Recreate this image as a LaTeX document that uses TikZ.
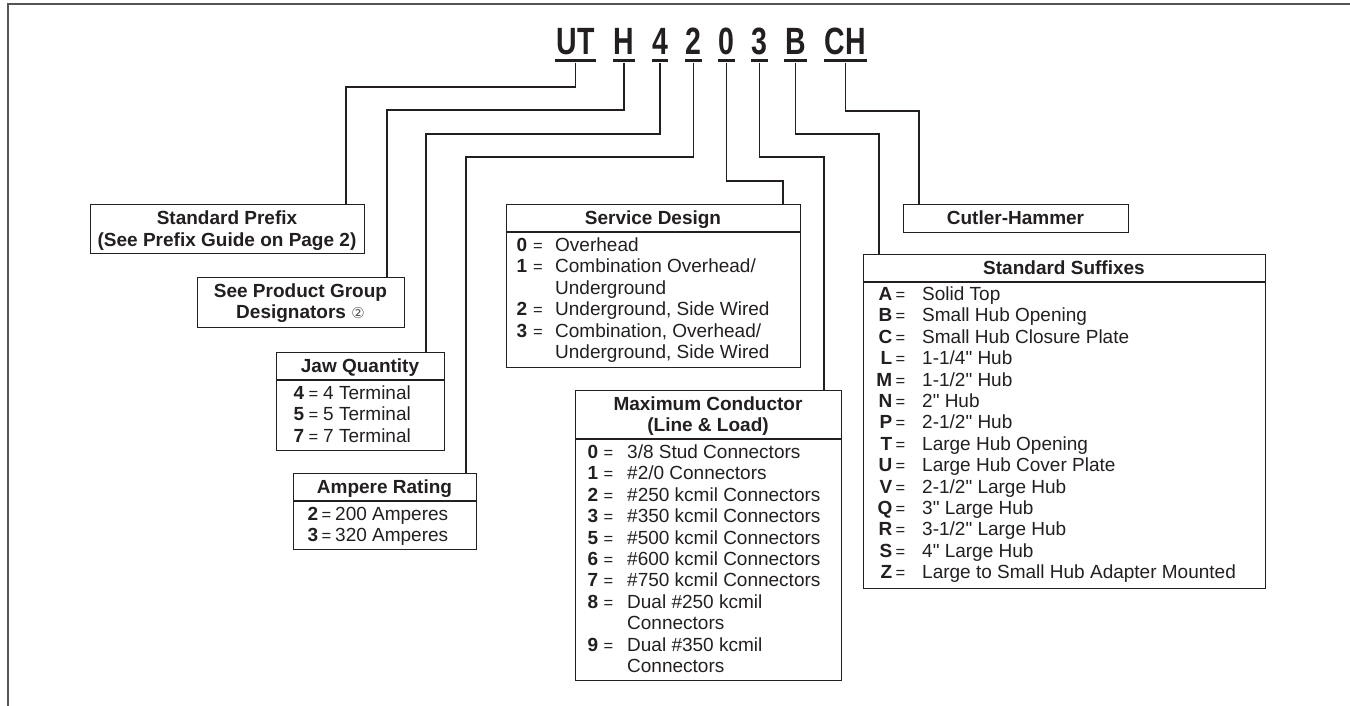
\documentclass[tikz,border=0pt]{standalone}
\usepackage{fontspec}
\usepackage{graphicx}
\setmainfont{Liberation Sans}[Ligatures=TeXOff]
\newfontfamily\dejavu{DejaVu Sans}
\definecolor{ink}{HTML}{231F20}
\definecolor{framecol}{HTML}{555555}
\newcommand\bodyfont{\fontsize{19}{21.4}\selectfont}
\newcommand\codefont{\fontsize{38}{40}\selectfont\bfseries}
\newcommand\eqfont{\fontsize{16.5}{20}\selectfont}
% key right x, "=" centre x, text left x, baseline y, key, text
\newcommand\kvline[6]{%
  \node[txt, anchor=base east] at (#1-1.5,#4) {\bfseries #5};
  \node[txt, anchor=base, font=\eqfont] at (#2,#4) {=};
  \node[txt, anchor=base west] at (#3,#4) {#6};}
\newcommand\contline[3]{\node[txt, anchor=base west] at (#1,#2) {#3};}
\newcommand\titleline[3]{\node[txt, anchor=base] at (#1,#2) {\bfseries #3};}
\begin{document}
\begin{tikzpicture}[x=1pt,y=-1pt,
  txt/.style={inner sep=0pt, text=ink, font=\bodyfont},
  codetxt/.style={inner sep=0pt, text=ink, font=\codefont},
  uline/.style={fill=ink, inner sep=0pt, minimum height=3},
  boxnode/.style={draw=ink, line width=1.3pt, inner sep=0pt, anchor=north west},
  conn/.style={draw=ink, line width=1.2pt},
  divline/.style={draw=ink, line width=1.3pt}]
\useasboundingbox (0,0) rectangle (1350,706);
% frame
\draw[framecol, line width=2pt] (7.5,706) -- (7.5,4) -- (1350,4);

% code letters and underlines
\foreach \n/\t/\x/\a/\b in {UT/UT/575.5/555/596, H/H/624/613/635, 4/4/660/652/668,
    2/2/693.5/685/702, 0/0/726.5/718/735, 3/3/759.5/751/768, B/B/795.5/784/807, CH/CH/845.5/824/867} {
  \node[codetxt, anchor=base] (c\n) at (\x,55) {\scalebox{0.75}[1]{\t}};
  \node[uline, minimum width=\b-\a] (u\n) at ({(\a+\b)/2},61) {};
}

% boxes
\node[boxnode, minimum width=274, minimum height=49] (prefix) at (90,204) {};
\node[boxnode, minimum width=207, minimum height=50] (product) at (197,277) {};
\node[boxnode, minimum width=168, minimum height=98] (jaw) at (276,352) {};
\node[boxnode, minimum width=183, minimum height=76] (amp) at (293,473) {};
\node[boxnode, minimum width=294, minimum height=163] (service) at (506,204) {};
\node[boxnode, minimum width=266, minimum height=290] (maxc) at (575,390) {};
\node[boxnode, minimum width=225, minimum height=28] (cutler) at (903,204) {};
\node[boxnode, minimum width=402, minimum height=334] (suffix) at (863,254) {};

% dividers
\draw[divline] (jaw.west |- 0,380) -- (jaw.east |- 0,380);
\draw[divline] (amp.west |- 0,501) -- (amp.east |- 0,501);
\draw[divline] (service.west |- 0,232) -- (service.east |- 0,232);
\draw[divline] (maxc.west |- 0,439) -- (maxc.east |- 0,439);
\draw[divline] (suffix.west |- 0,282) -- (suffix.east |- 0,282);

% connectors
\coordinate (kUT) at (346,87);
\coordinate (kH) at (387,110);
\coordinate (k4) at (426,134);
\coordinate (k2) at (466,157);
\coordinate (k0) at (783,181);
\coordinate (k3) at (824,157);
\coordinate (kB) at (879,134);
\coordinate (kCH) at (919,111);
\draw[conn] (uUT.south) |- (kUT) -- (kUT |- prefix.north);
\draw[conn] (uH.south) |- (kH) -- (kH |- product.north);
\draw[conn] (u4.south) |- (k4) -- (k4 |- jaw.north);
\draw[conn] (u2.south) |- (k2) -- (k2 |- amp.north);
\draw[conn] (u0.south) |- (k0) -- (k0 |- service.north);
\draw[conn] (u3.south) |- (k3) -- (k3 |- maxc.north);
\draw[conn] (uB.south) |- (kB) -- (kB |- suffix.north);
\draw[conn] (uCH.south) |- (kCH) -- (kCH |- cutler.north);

% titles
\titleline{227}{224.5}{Standard Prefix}
\titleline{227}{246.5}{(See Prefix Guide on Page 2)}
\titleline{300.5}{297.5}{See Product Group}
\node[txt, anchor=base] at (300.5,318.5) {\bfseries Designators~{\dejavu\mdseries\fontsize{15}{15}\selectfont\textcolor{ink!75}{②}}};
\titleline{360}{372.5}{Jaw Quantity}
\titleline{384.5}{493.5}{Ampere Rating}
\titleline{653}{224.5}{Service Design}
\titleline{708}{410.5}{Maximum Conductor}
\titleline{708}{431.5}{(Line \& Load)}
\titleline{1015.5}{224.5}{Cutler-Hammer}
\titleline{1064}{274.5}{Standard Suffixes}

% Jaw quantity
\kvline{306}{313.5}{323}{399.5}{4}{4 Terminal}
\kvline{306}{313.5}{323}{420.9}{5}{5 Terminal}
\kvline{306}{313.5}{323}{442.3}{7}{7 Terminal}

% Ampere rating
\kvline{320}{326.5}{335}{520.5}{2}{200 Amperes}
\kvline{320}{326.5}{335}{541.9}{3}{320 Amperes}

% Service design
\kvline{529}{538}{555}{251.5}{0}{Overhead}
\kvline{529}{538}{555}{272.9}{1}{Combination Overhead/}
\contline{555}{294.3}{Underground}
\kvline{529}{538}{555}{315.7}{2}{Underground, Side Wired}
\kvline{529}{538}{555}{337.1}{3}{Combination, Overhead/}
\contline{555}{358.5}{Underground, Side Wired}

% Maximum conductor
\kvline{600}{608.5}{627}{458.5}{0}{3/8 Stud Connectors}
\kvline{600}{608.5}{627}{479.9}{1}{\#2/0 Connectors}
\kvline{600}{608.5}{627}{501.3}{2}{\#250 kcmil Connectors}
\kvline{600}{608.5}{627}{522.7}{3}{\#350 kcmil Connectors}
\kvline{600}{608.5}{627}{544.1}{5}{\#500 kcmil Connectors}
\kvline{600}{608.5}{627}{565.5}{6}{\#600 kcmil Connectors}
\kvline{600}{608.5}{627}{586.9}{7}{\#750 kcmil Connectors}
\kvline{600}{608.5}{627}{608.3}{8}{Dual \#250 kcmil}
\contline{627}{629.7}{Connectors}
\kvline{600}{608.5}{627}{651.1}{9}{Dual \#350 kcmil}
\contline{627}{672.5}{Connectors}

% Standard suffixes
\foreach \k/\t [count=\i from 0] in {A/{Solid Top}, B/{Small Hub Opening}, C/{Small Hub Closure Plate},
    L/{1-1/4" Hub}, M/{1-1/2" Hub}, N/{2" Hub}, P/{2-1/2" Hub}, T/{Large Hub Opening},
    U/{Large Hub Cover Plate}, V/{2-1/2" Large Hub}, Q/{3" Large Hub}, R/{3-1/2" Large Hub},
    S/{4" Large Hub}, Z/{Large to Small Hub Adapter Mounted}} {
  \kvline{894}{900.5}{922}{300.5+\i*21.4}{\k}{\t}
}
\end{tikzpicture}
\end{document}
